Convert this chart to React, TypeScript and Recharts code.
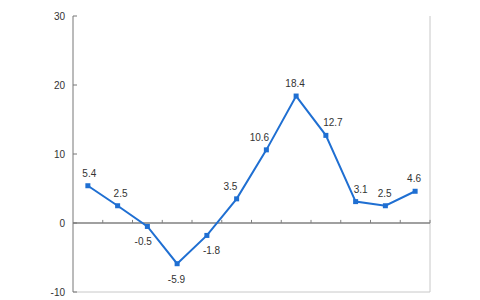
import {
    LineChart,
    Line,
    XAxis,
    YAxis,
    ReferenceLine,
    LabelList,
} from 'recharts';

const values = [5.4, 2.5, -0.5, -5.9, -1.8, 3.5, 10.6, 18.4, 12.7, 3.1, 2.5, 4.6];
const yTicks = [-10, 0, 10, 20, 30];
const boundaries = values.map((_, i) => i + 1);

const data = values.map((v, i) => ({ x: i + 0.5, value: v }));

const LINE_COLOR = '#1f6fd2';
const FONT = 'Arial, "Liberation Sans", sans-serif';

function SquareDot(props: any) {
    const { cx, cy } = props;
    if (cx == null || cy == null) return null;
    return <rect x={cx - 2.5} y={cy - 2.5} width={5} height={5} fill={LINE_COLOR} />;
}

// push a label sideways, away from the line, depending on the local slope
function sideShift(i: number, below: boolean) {
    const inc = i > 0 ? values[i] - values[i - 1] : 0;
    const out = i < values.length - 1 ? values[i + 1] - values[i] : 0;
    const s = Math.max(-7, Math.min(7, (inc + out) * 0.5));
    return below ? s : -s;
}

function ValueLabel(props: any) {
    const { x, y, value, index } = props;
    const below = value < 0;
    return (
        <text
            x={x + sideShift(index, below)}
            y={below ? y + 19 : y - 9}
            textAnchor="middle"
            fontSize={10}
            fontFamily={FONT}
            fill="#333"
        >
            {value}
        </text>
    );
}

export default function App() {
    return (
        <div style={{ width: 472, height: 292 }}>
            <LineChart width={472} height={292} data={data} margin={{ top: 8, right: 50, bottom: 8, left: 0 }}>
                <XAxis dataKey="x" type="number" domain={[0, 12]} hide />
                <YAxis
                    domain={[-10, 30]}
                    ticks={yTicks}
                    width={65}
                    stroke="#777"
                    tickSize={-4}
                    tickMargin={12}
                    tick={{ fill: '#333', fontSize: 10, fontFamily: FONT }}
                />
                <ReferenceLine x={12} stroke="#c8c8c8" />
                <ReferenceLine y={-10} stroke="#c8c8c8" />
                <ReferenceLine y={0} stroke="#808080" strokeWidth={1.5} />
                {boundaries.map((b) => (
                    <ReferenceLine
                        key={b}
                        segment={[{ x: b, y: 0 }, { x: b, y: 0.45 }]}
                        stroke="#808080"
                    />
                ))}
                <Line
                    dataKey="value"
                    stroke={LINE_COLOR}
                    strokeWidth={2}
                    dot={<SquareDot />}
                    activeDot={false}
                    isAnimationActive={false}
                >
                    <LabelList dataKey="value" content={<ValueLabel />} />
                </Line>
            </LineChart>
        </div>
    );
}
